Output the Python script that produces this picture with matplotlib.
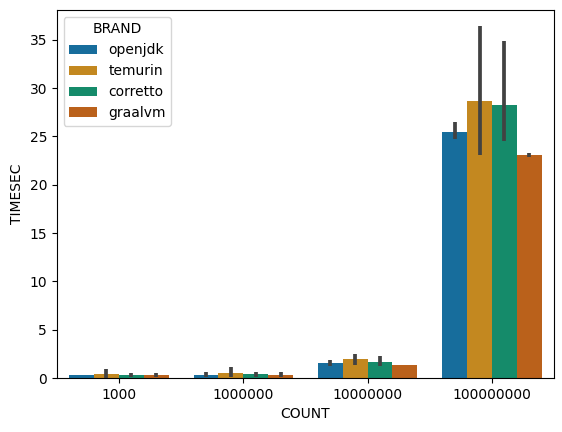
import numpy as np
import matplotlib
matplotlib.use("Agg")
import matplotlib.pyplot as plt
import seaborn as sns

# benchmark results
counts = ["1000", "1000000", "10000000", "100000000"]
brands = ["openjdk", "temurin", "corretto", "graalvm"]

mean_sec = {
    "openjdk":  [0.3, 0.3, 1.55, 25.5],
    "temurin":  [0.4, 0.5, 1.95, 28.7],
    "corretto": [0.3, 0.4, 1.65, 28.3],
    "graalvm":  [0.3, 0.3, 1.35, 23.1],
}
ci_low = {
    "openjdk":  [0.3, 0.15, 1.2, 24.7],
    "temurin":  [0.03, 0.1, 1.3, 23.1],
    "corretto": [0.15, 0.15, 1.2, 24.5],
    "graalvm":  [0.15, 0.15, 1.35, 22.9],
}
ci_high = {
    "openjdk":  [0.3, 0.6, 1.85, 26.5],
    "temurin":  [0.9, 1.1, 2.5, 36.4],
    "corretto": [0.5, 0.6, 2.3, 34.9],
    "graalvm":  [0.5, 0.6, 1.35, 23.3],
}

colors = sns.color_palette("colorblind", len(brands), desat=0.75)

fig = plt.figure(figsize=(5.62, 4.32), dpi=100)
ax = fig.add_axes([0.101, 0.125, 0.885, 0.852])

x = np.arange(len(counts))
w = 0.8 / len(brands)
for i, b in enumerate(brands):
    pos = x - 0.4 + w * (i + 0.5)
    ax.bar(pos, mean_sec[b], width=w, color=colors[i], label=b)
    ax.vlines(pos, ci_low[b], ci_high[b], colors="#424242", linewidth=2.7, zorder=3)

ax.set_xticks(x)
ax.set_xticklabels(counts)
ax.set_xlim(-0.5, len(counts) - 0.5)
ax.set_ylim(0, 38.1)
ax.set_xlabel("COUNT")
ax.set_ylabel("TIMESEC")
ax.legend(title="BRAND", loc="upper left")

fig.savefig("out.png", dpi=100)
